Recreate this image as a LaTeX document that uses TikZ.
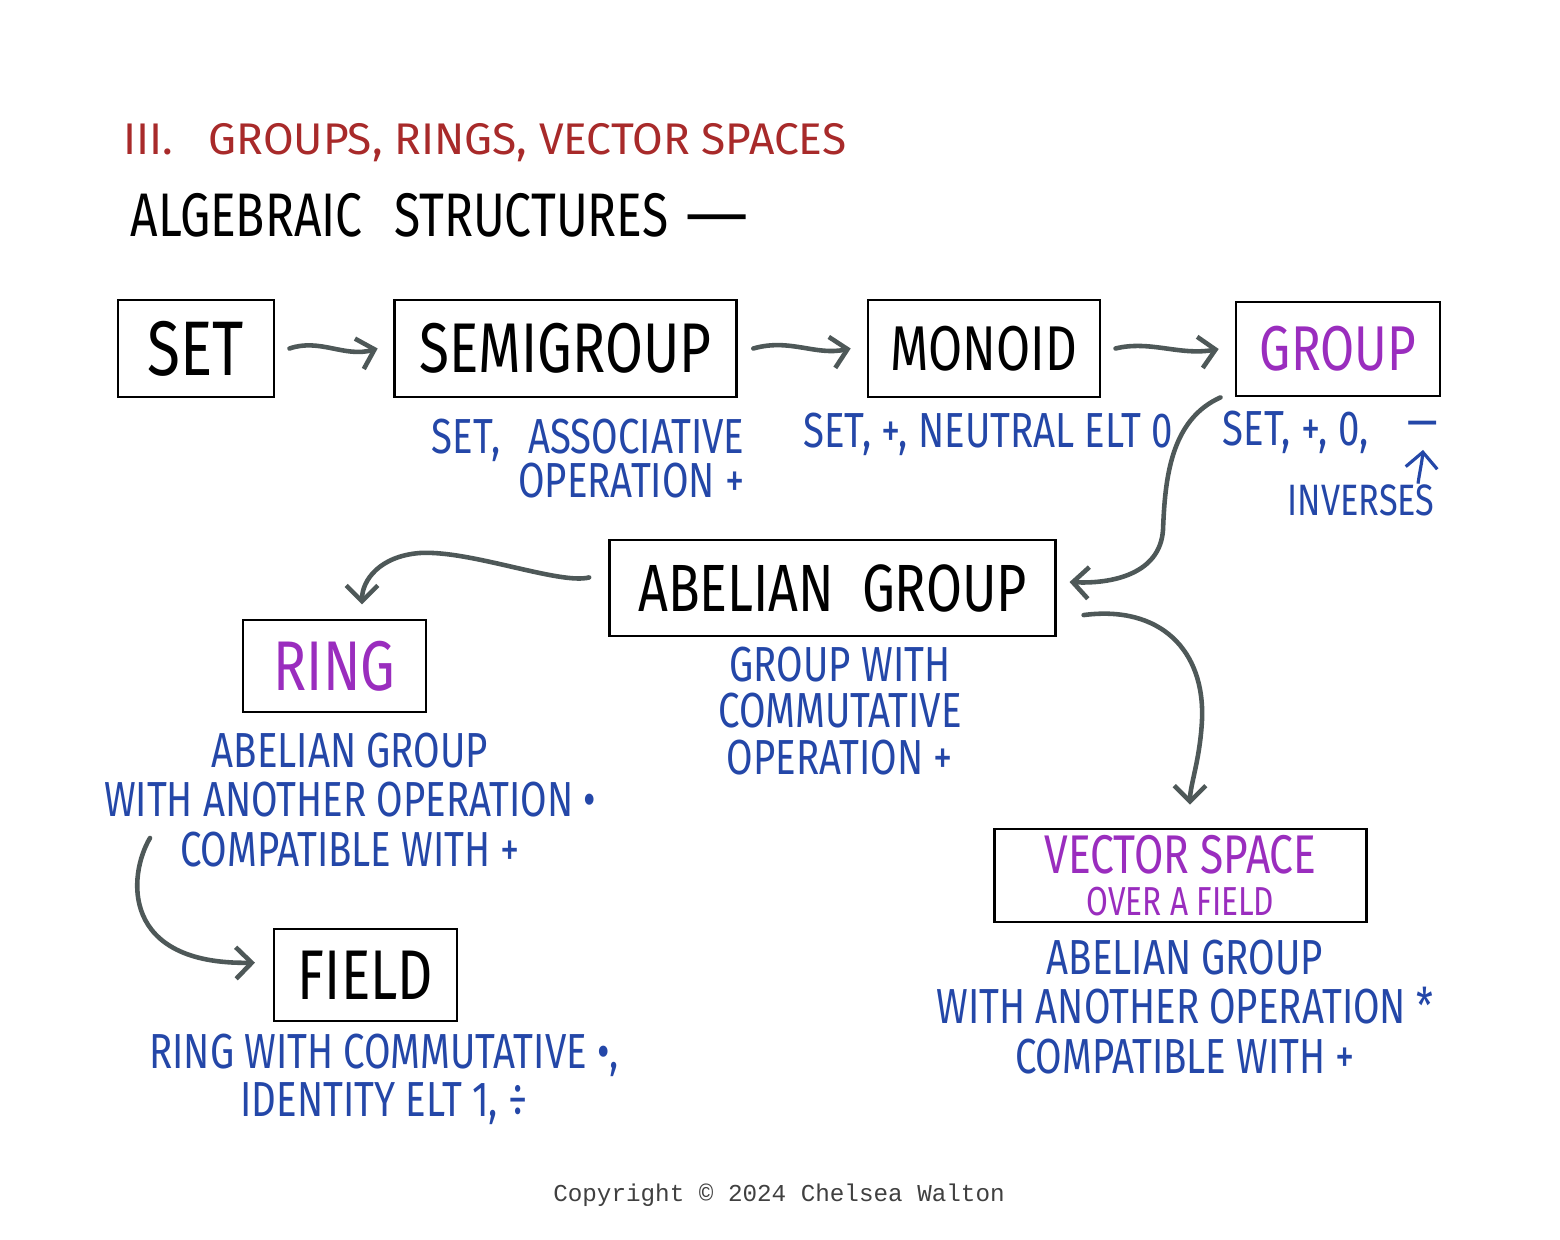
\documentclass[tikz,border=0pt]{standalone}
\usepackage{fontspec}
\usepackage{tikz}
\usetikzlibrary{arrows.meta}
\newfontfamily\handfont[FakeStretch=0.78]{Fira Sans}
\newfontfamily\widehand{Fira Sans}
\newfontfamily\dashfont[FakeStretch=1.3]{Fira Sans}
\newfontfamily\copyfont{Liberation Mono}
\definecolor{titlered}{HTML}{A82A2A}
\definecolor{noteblue}{HTML}{2447A8}
\definecolor{boxpurple}{HTML}{9A2DBE}
\definecolor{arrowgray}{HTML}{4E5858}

\begin{document}
\begin{tikzpicture}[x=0.01cm,y=-0.01cm,
  box/.style={draw=black,line width=0.8pt,inner sep=0pt,font=\handfont\fontsize{20}{22}\selectfont},
  note/.style={text=noteblue,align=center,inner sep=0pt,font=\handfont\fontsize{14}{14}\selectfont},
  conn/.style={->,draw=arrowgray,line width=1.3pt,line cap=round},
  >={Straight Barb[length=4.5pt,width=9pt]}]

\fill[white] (0,0) rectangle (1560,1240);
\useasboundingbox (0,0) rectangle (1560,1240);

% headings
\node[anchor=west,inner sep=0pt,text=titlered,font=\widehand\fontsize{12.6}{14}\selectfont] (title) at (123,143) {III.\hspace{10pt}GROUPS, RINGS, VECTOR SPACES};
\node[anchor=west,inner sep=0pt,font=\handfont\fontsize{17.5}{19}\selectfont] (subtitle) at (130,215) {ALGEBRAIC\hspace{9pt}STRUCTURES\hspace{5pt}{\dashfont —}};

% structures
\node[box,minimum width=1.56cm,minimum height=0.97cm,font=\handfont\fontsize{22}{24}\selectfont] (set) at (196,348.5) {SET};
\node[box,minimum width=3.41cm,minimum height=0.97cm] (semi) at (565.5,348.5) {SEMIGROUP};
\node[box,minimum width=2.32cm,minimum height=0.97cm,font=\handfont\fontsize{18}{20}\selectfont] (monoid) at (984,348.5) {MONOID};
\node[box,minimum width=2.04cm,minimum height=0.94cm,text=boxpurple,font=\handfont\fontsize{18}{20}\selectfont] (group) at (1338,349) {GROUP};
\node[box,minimum width=4.45cm,minimum height=0.96cm,font=\handfont\fontsize{19}{21}\selectfont] (abel) at (832.5,588) {ABELIAN\ \ GROUP};
\node[box,minimum width=1.83cm,minimum height=0.92cm,text=boxpurple] (ring) at (334.5,666) {RING};
\node[box,minimum width=1.83cm,minimum height=0.92cm] (field) at (365.5,975) {FIELD};
\node[box,minimum width=3.71cm,minimum height=0.93cm,text=boxpurple,align=center,
  font=\handfont\fontsize{15.5}{12}\selectfont] (vect) at (1180.5,875.5) {VECTOR SPACE\\{\fontsize{11.5}{12}\selectfont OVER A FIELD}};

% notes
\node[note,align=right,anchor=north east,font=\handfont\fontsize{14}{12.5}\selectfont] (semilab) at (745,418) {SET,\hspace{8pt}ASSOCIATIVE\\OPERATION +};
\node[note] (monolab) at (988,434) {SET, +, NEUTRAL ELT 0};
\node[note,anchor=west] (grplab) at (1222,432) {SET,\hspace{3pt}+,\hspace{3pt}0,};
\node[note] (minus) at (1423,430) {—};
\node[note,font=\handfont\fontsize{12.5}{13}\selectfont] (inv) at (1361,500) {INVERSES};
\node[note,font=\handfont\fontsize{14}{13.1}\selectfont] (abellab) at (840,711) {GROUP WITH\\COMMUTATIVE\\OPERATION +};
\node[note] (ringlab) at (350,800) {ABELIAN GROUP\\WITH ANOTHER OPERATION •\\COMPATIBLE WITH +};
\node[note,font=\handfont\fontsize{14}{13.6}\selectfont] (fieldlab) at (384,1079) {RING WITH COMMUTATIVE •,\\IDENTITY ELT 1, ÷};
\node[note] (vectlab) at (1185,1007) {ABELIAN GROUP\\WITH ANOTHER OPERATION *\\COMPATIBLE WITH +};
\coordinate (ringout) at (150,838);

% connectors
\draw[conn] ([xshift=4pt]set.east) .. controls (320,338) and (345,358) .. ([xshift=-4.5pt]semi.west);
\draw[conn] ([xshift=4.5pt]semi.east) .. controls (790,338) and (815,356) .. ([xshift=-4.5pt]monoid.west);
\draw[conn] ([xshift=4pt]monoid.east) .. controls (1150,340) and (1180,356) .. ([xshift=-4.5pt]group.west);
\draw[conn] ([xshift=-4pt]group.south west) .. controls (1170,420) and (1165,480) .. (1163,530)
  .. controls (1160,575) and (1110,584) .. ([xshift=3.7pt,yshift=1.7pt]abel.east);
\draw[conn] ([xshift=-5.5pt,yshift=3pt]abel.west) .. controls (560,585) and (470,550) .. (420,553)
  .. controls (380,556) and (362,580) .. ([yshift=4pt]ring.north west -| 362,0);
\draw[conn] (ringout) .. controls (128,875) and (120,965) .. ([xshift=-5pt,yshift=3.5pt]field.west);
\draw[conn] ([xshift=7.7pt,yshift=-7.7pt]abel.east) .. controls (1160,605) and (1205,650) .. (1202,720)
  .. controls (1200,760) and (1190,785) .. ([yshift=6.5pt]vect.north west -| 1190,0);
\draw[->,noteblue,line width=0.9pt] (inv.north -| 1418,0) .. controls (1420,470) and (1422,462) .. ([yshift=-3pt]minus.south);

% footer
\node[text=black!75,font=\copyfont\fontsize{6.9}{8}\selectfont] (copy) at (779,1195) {Copyright © 2024 Chelsea Walton};
\end{tikzpicture}
\end{document}
